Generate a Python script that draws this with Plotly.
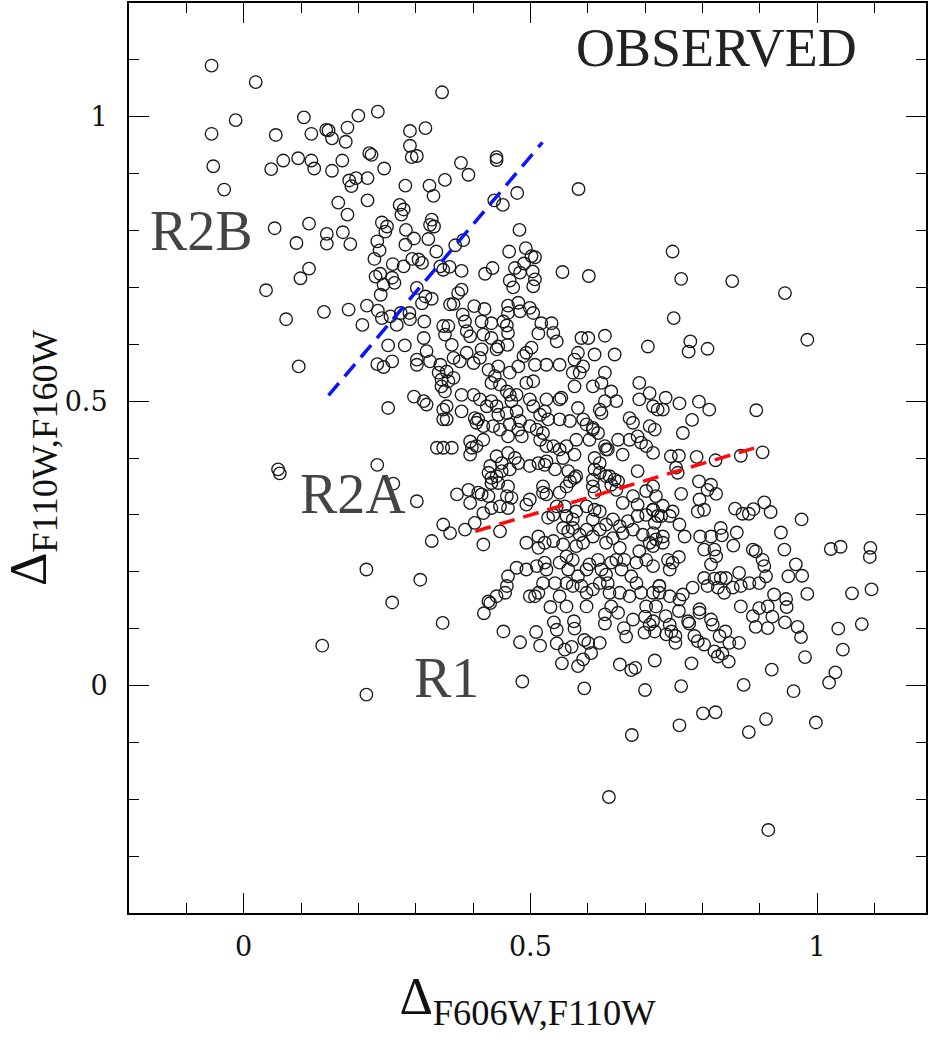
import plotly.graph_objects as go

# ---- data (Delta F606W,F110W ; Delta F110W,F160W) ----
upper_left = [(-0.056,1.090),(0.021,1.061),(-0.014,0.994),(0.105,0.999),(0.200,1.002),(0.234,1.009),(-0.056,0.970),(0.056,0.968),(0.118,0.970),(0.144,0.977),(0.148,0.976),(0.181,0.981),(0.154,0.962),(0.178,0.956),(0.219,0.936),(0.223,0.933),(0.290,0.975),(0.290,0.949),(0.293,0.929),(0.302,0.931),(-0.053,0.913),(0.048,0.908),(0.069,0.923),(0.095,0.927),(0.118,0.923),(0.123,0.909),(0.154,0.905),(0.172,0.923),(0.245,0.909),(-0.034,0.872),(0.184,0.888),(0.196,0.892),(0.188,0.878),(0.216,0.892),(0.282,0.879),(0.165,0.849),(0.216,0.853),(0.181,0.828),(0.272,0.845),(0.279,0.837),(0.275,0.828),(0.054,0.804),(0.114,0.812),(0.092,0.778),(0.145,0.794),(0.145,0.777),(0.173,0.797),(0.186,0.776),(0.241,0.814),(0.250,0.807),(0.247,0.798),(0.283,0.801),(0.233,0.781),(0.237,0.765),(0.282,0.775),(0.297,0.786),(0.228,0.750),(0.260,0.741),(0.279,0.737),(0.294,0.750),(0.305,0.749),(0.114,0.733),(0.099,0.716),(0.230,0.719),(0.238,0.724),(0.244,0.705),(0.259,0.717),(0.263,0.708),(0.239,0.687),(0.302,0.699),(0.039,0.695),(0.074,0.644),(0.140,0.657),(0.183,0.661),(0.215,0.668),(0.234,0.659),(0.241,0.646),(0.256,0.649),(0.274,0.655),(0.289,0.655),(0.290,0.644),(0.207,0.634),(0.267,0.634)]

upper_mid = [(0.346,1.043),(0.317,0.980),(0.379,0.919),(0.392,0.898),(0.441,0.929),(0.441,0.924),(0.351,0.889),(0.324,0.879),(0.331,0.861),(0.477,0.866),(0.437,0.853),(0.452,0.845),(0.584,0.873),(0.328,0.819),(0.325,0.810),(0.332,0.807),(0.322,0.785),(0.481,0.801),(0.336,0.763),(0.369,0.774),(0.383,0.783),(0.463,0.763),(0.492,0.769),(0.502,0.755),(0.508,0.753),(0.311,0.743),(0.343,0.737),(0.359,0.736),(0.348,0.731),(0.380,0.729),(0.421,0.724),(0.434,0.734),(0.473,0.734),(0.482,0.726),(0.489,0.742),(0.504,0.728),(0.508,0.714),(0.505,0.702),(0.464,0.712),(0.470,0.700),(0.556,0.727),(0.602,0.720),(0.317,0.684),(0.328,0.680),(0.311,0.672),(0.374,0.690),(0.380,0.696),(0.360,0.670),(0.366,0.671),(0.402,0.667),(0.420,0.662),(0.461,0.668),(0.479,0.673),(0.461,0.655),(0.482,0.658),(0.499,0.664),(0.505,0.655),(0.315,0.640),(0.382,0.652),(0.386,0.640),(0.348,0.632),(0.357,0.632),(0.415,0.640),(0.432,0.637),(0.453,0.640),(0.459,0.633),(0.519,0.637),(0.537,0.637),(0.748,0.763),(0.763,0.715),(0.852,0.711),(0.944,0.690),(0.750,0.646)]

left_low = [(0.096,0.561),(0.252,0.598),(0.281,0.598),(0.233,0.565),(0.244,0.560),(0.259,0.570),(0.302,0.573),(0.302,0.564),(0.297,0.508),(0.252,0.488),(0.060,0.380),(0.063,0.373),(0.233,0.388),(0.261,0.355),(0.302,0.324),(0.214,0.204),(0.308,0.186),(0.259,0.146),(0.137,0.070),(0.214,-0.016)]

core = [(0.314,0.611),(0.351,0.617),(0.363,0.599),(0.389,0.623),(0.395,0.614),(0.418,0.617),(0.432,0.611),(0.444,0.596),(0.460,0.599),(0.461,0.620),(0.514,0.619),(0.540,0.620),(0.546,0.605),(0.589,0.611),(0.601,0.611),(0.630,0.615),(0.705,0.596),
(0.325,0.570),(0.343,0.564),(0.366,0.576),(0.377,0.570),(0.389,0.585),(0.401,0.567),(0.412,0.576),(0.415,0.591),(0.427,0.555),(0.441,0.591),(0.444,0.561),(0.464,0.550),(0.479,0.561),(0.488,0.579),(0.493,0.585),(0.502,0.594),(0.508,0.564),(0.528,0.564),(0.551,0.564),(0.577,0.573),(0.583,0.585),(0.592,0.561),(0.612,0.582),(0.647,0.582),(0.340,0.550),(0.354,0.552),(0.319,0.588),
(0.345,0.538),(0.357,0.535),(0.366,0.541),(0.351,0.517),(0.345,0.526),(0.380,0.511),(0.401,0.511),(0.412,0.503),(0.432,0.532),(0.438,0.544),(0.447,0.529),(0.459,0.517),(0.464,0.511),(0.476,0.511),(0.493,0.532),(0.505,0.535),(0.499,0.503),(0.528,0.503),(0.551,0.503),(0.554,0.506),(0.574,0.550),(0.577,0.526),(0.586,0.550),(0.609,0.526),(0.624,0.532),(0.630,0.550),(0.641,0.517),(0.690,0.532),(0.708,0.514),
(0.314,0.500),(0.319,0.494),(0.348,0.485),(0.354,0.491),(0.380,0.482),(0.403,0.470),(0.409,0.468),(0.424,0.491),(0.432,0.500),(0.441,0.491),(0.444,0.476),(0.459,0.479),(0.467,0.500),(0.476,0.482),(0.482,0.465),(0.505,0.491),(0.517,0.476),(0.525,0.482),(0.531,0.468),(0.551,0.468),(0.569,0.465),(0.583,0.488),(0.592,0.468),(0.598,0.459),(0.609,0.453),(0.621,0.485),(0.624,0.479),(0.630,0.500),(0.650,0.500),(0.673,0.470),(0.679,0.462),(0.690,0.503),(0.714,0.491),(0.722,0.485),
(0.348,0.468),(0.354,0.468),(0.406,0.462),(0.418,0.456),(0.435,0.456),(0.447,0.450),(0.464,0.459),(0.461,0.438),(0.479,0.450),(0.485,0.438),(0.499,0.456),(0.511,0.450),(0.522,0.444),(0.517,0.432),(0.528,0.421),(0.540,0.421),(0.551,0.415),(0.563,0.421),(0.580,0.432),(0.603,0.432),(0.609,0.450),(0.618,0.444),(0.630,0.421),(0.635,0.415),(0.653,0.432),(0.673,0.432),(0.687,0.438),(0.693,0.427),(0.702,0.421),(0.714,0.409),(0.708,0.456),(0.348,0.418),(0.337,0.418),(0.363,0.418),(0.395,0.429),(0.398,0.418),(0.395,0.406),(0.418,0.432),(0.406,0.421),
(0.441,0.403),(0.461,0.409),(0.473,0.400),(0.430,0.386),(0.450,0.391),(0.464,0.380),(0.479,0.391),(0.499,0.386),(0.514,0.391),(0.525,0.388),(0.528,0.394),(0.543,0.380),(0.557,0.400),(0.577,0.406),(0.566,0.377),(0.580,0.368),(0.612,0.400),(0.621,0.391),(0.612,0.380),(0.621,0.374),(0.609,0.362),(0.632,0.415),(0.632,0.368),(0.647,0.362),(0.661,0.406),(0.687,0.377),(0.427,0.374),(0.432,0.365),(0.441,0.368),(0.450,0.377),
(0.372,0.336),(0.392,0.344),(0.395,0.321),(0.409,0.339),(0.415,0.336),(0.427,0.333),(0.432,0.356),(0.444,0.356),(0.461,0.350),(0.459,0.333),(0.467,0.330),(0.499,0.327),(0.522,0.350),(0.522,0.339),(0.528,0.336),(0.551,0.339),(0.563,0.350),(0.569,0.359),(0.577,0.365),(0.609,0.350),(0.612,0.339),(0.638,0.368),(0.641,0.353),(0.653,0.359),(0.650,0.344),(0.661,0.321),(0.679,0.333),(0.687,0.318),(0.702,0.342),(0.714,0.350),(0.719,0.333),
(0.418,0.303),(0.432,0.312),(0.447,0.315),(0.461,0.312),(0.493,0.318),(0.531,0.295),(0.540,0.300),(0.546,0.315),(0.560,0.315),(0.563,0.298),(0.574,0.292),(0.580,0.306),(0.598,0.315),(0.612,0.309),(0.621,0.306),(0.609,0.292),(0.632,0.283),(0.644,0.292),(0.656,0.280),(0.670,0.289),(0.687,0.298),(0.702,0.300),(0.714,0.309),(0.722,0.298),
(0.348,0.283),(0.360,0.268),(0.328,0.254),(0.386,0.274),(0.403,0.286),(0.418,0.248),(0.447,0.271),(0.493,0.251),(0.514,0.262),(0.514,0.242),(0.525,0.251),(0.540,0.254),(0.557,0.277),(0.566,0.271),(0.574,0.277),(0.586,0.265),(0.598,0.274),(0.609,0.262),(0.621,0.274),(0.632,0.251),(0.644,0.259),(0.661,0.268),(0.679,0.274),(0.696,0.265),(0.708,0.251),(0.719,0.257),(0.557,0.248),(0.580,0.245),(0.592,0.251),
(0.461,0.192),(0.476,0.207),(0.493,0.204),(0.511,0.210),(0.525,0.216),(0.528,0.204),(0.551,0.216),(0.563,0.227),(0.574,0.221),(0.566,0.204),(0.583,0.192),(0.598,0.204),(0.603,0.213),(0.618,0.221),(0.624,0.204),(0.632,0.195),(0.641,0.216),(0.650,0.221),(0.664,0.221),(0.659,0.204),(0.676,0.192),(0.685,0.216),(0.702,0.221),(0.714,0.210),(0.690,0.236),(0.656,0.242),
(0.441,0.157),(0.427,0.148),(0.456,0.163),(0.459,0.175),(0.499,0.157),(0.508,0.157),(0.514,0.163),(0.522,0.180),(0.543,0.180),(0.551,0.157),(0.563,0.180),(0.574,0.175),(0.589,0.175),(0.598,0.163),(0.609,0.169),(0.621,0.180),(0.635,0.180),(0.638,0.163),(0.656,0.163),(0.673,0.157),(0.685,0.180),(0.693,0.163),(0.714,0.163),(0.725,0.175),(0.563,0.139),(0.598,0.139),(0.702,0.139)]

right_mid = [(0.796,0.262),(0.815,0.262),(0.832,0.277),(0.834,0.264),(0.860,0.269),(0.854,0.246),(0.803,0.239),(0.821,0.239),(0.824,0.227),(0.815,0.213),(0.864,0.198),(0.888,0.239),(0.893,0.236),(0.905,0.221),(0.908,0.210),(0.911,0.192),(0.899,0.180),(0.882,0.180),(0.867,0.175),(0.853,0.172),(0.832,0.189),(0.841,0.189),(0.821,0.188),(0.803,0.189),(0.809,0.175),(0.827,0.172),(0.838,0.163),(0.783,0.172),(0.766,0.160),(0.760,0.151),(0.743,0.157),(0.725,0.175),(0.725,0.163),(0.743,0.204),(0.748,0.216),(0.740,0.221),(0.759,0.226),(0.714,0.245),(0.731,0.251),(0.714,0.268),(0.731,0.262),(0.717,0.286),(0.728,0.298),(0.743,0.298),(0.714,0.309),(0.731,0.316),(0.748,0.306),(0.760,0.283),(0.769,0.262),(0.925,0.160),
(0.779,0.605),(0.776,0.587),(0.809,0.592),(0.983,0.608),(0.736,0.506),(0.731,0.485),(0.760,0.496),(0.794,0.499),(0.812,0.485),(0.782,0.467),(0.766,0.444),(0.717,0.450),(0.894,0.484),(0.745,0.403),(0.759,0.404),(0.790,0.402),(0.823,0.396),(0.867,0.404),(0.905,0.410),(0.754,0.383),(0.757,0.374),(0.794,0.359),(0.815,0.353),(0.809,0.344),(0.824,0.337),(0.763,0.337),(0.795,0.327),(0.803,0.309),(0.792,0.306),(0.857,0.311),(0.870,0.302),(0.881,0.302),(0.889,0.310),(0.908,0.322),(0.919,0.305),(0.973,0.292),(0.937,0.269),(0.943,0.239),(1.024,0.240),(1.041,0.244),(1.093,0.242),(1.092,0.226),(0.963,0.213),(0.950,0.192),(0.974,0.193),(0.983,0.161),(1.061,0.162),(1.095,0.169),(0.946,0.152)]

low_mid = [(0.347,0.110),(0.419,0.127),(0.430,0.145),(0.453,0.095),(0.482,0.076),(0.510,0.094),(0.517,0.070),(0.535,0.138),(0.541,0.111),(0.546,0.098),(0.546,0.074),(0.576,0.113),(0.577,0.100),(0.560,0.063),(0.572,0.068),(0.555,0.039),(0.594,0.080),(0.601,0.075),(0.592,0.046),(0.583,0.034),(0.606,0.057),(0.621,0.075),(0.486,0.007),(0.594,-0.005),(0.630,0.125),(0.630,0.109),(0.641,0.139),(0.653,0.128),(0.663,0.101),(0.667,0.086),(0.679,0.116),(0.656,0.037),(0.676,0.027),(0.683,0.031),(0.700,-0.008),(0.700,0.121),(0.699,0.093),(0.708,0.107),(0.717,0.095),(0.717,0.044),(0.677,-0.087),(0.637,-0.196)]

low_right = [(0.719,0.139),(0.736,0.122),(0.714,0.113),(0.743,0.107),(0.746,0.095),(0.737,0.090),(0.753,0.087),(0.753,0.075),(0.759,0.131),(0.775,0.113),(0.777,0.109),(0.795,0.134),(0.795,0.128),(0.786,0.087),(0.792,0.078),(0.803,0.072),(0.815,0.116),(0.818,0.107),(0.830,0.087),(0.840,0.095),(0.847,0.075),(0.864,0.075),(0.821,0.060),(0.827,0.051),(0.835,0.056),(0.846,0.042),(0.781,0.039),(0.763,-0.001),(0.760,-0.070),(0.801,-0.049),(0.823,-0.047),(0.872,0.001),(0.881,-0.082),(0.911,-0.059),(0.921,0.028),(0.959,-0.010),(0.998,-0.065),(0.979,0.050),(1.021,0.005),(1.032,0.023),(1.045,0.063),(1.037,0.100),(1.078,0.108),(0.915,-0.254),(0.867,0.139),(0.888,0.122),(0.893,0.103),(0.899,0.136),(0.914,0.139),(0.914,0.101),(0.922,0.121),(0.944,0.111),(0.947,0.138),(0.966,0.103),(0.972,0.085)]

# dividing lines
blue_x = [0.148, 0.521]
blue_y = [0.510, 0.955]
red_x = [0.404, 0.899]
red_y = [0.271, 0.420]

# text labels
labels = ["OBSERVED", "R2B", "R2A", "R1"]
label_x = [0.824, -0.073, 0.190, 0.353]
label_y = [1.121, 0.800, 0.336, 0.014]

x_ticks = [0, 0.5, 1]
x_tick_text = ["0", "0.5", "1"]
y_ticks = [0, 0.5, 1]
y_tick_text = ["0", "0.5", "1"]

all_pts = upper_left + upper_mid + left_low + core + right_mid + low_mid + low_right
xs = [p[0] for p in all_pts]
ys = [p[1] for p in all_pts]

SERIF = "Liberation Serif, DejaVu Serif, Times New Roman, serif"

fig = go.Figure()
fig.add_trace(go.Scatter(
    x=xs, y=ys, mode="markers",
    marker=dict(symbol="circle-open", size=12.5, color="#1a1a1a",
                line=dict(width=1.35, color="#1a1a1a")),
    showlegend=False, hoverinfo="skip"))
fig.add_trace(go.Scatter(x=blue_x, y=blue_y, mode="lines",
                         line=dict(color="#0a14ff", width=3.5, dash="16px,9px"),
                         showlegend=False))
fig.add_trace(go.Scatter(x=red_x, y=red_y, mode="lines",
                         line=dict(color="#ff0a0a", width=3.5, dash="16px,9px"),
                         showlegend=False))

sizes = [54, 56, 56, 56]
colors = ["#222222", "#444444", "#444444", "#444444"]
for t, lx, ly, s, c in zip(labels, label_x, label_y, sizes, colors):
    fig.add_annotation(x=lx, y=ly, text=t, showarrow=False, xref="x", yref="y",
                       font=dict(family=SERIF, size=s, color=c))

axis_common = dict(
    showline=True, linewidth=2, linecolor="black", mirror="allticks",
    ticks="inside", ticklen=20, tickwidth=1.3, tickcolor="black",
    showgrid=False, zeroline=False,
    tickfont=dict(family="DejaVu Serif, Liberation Serif, serif", size=27, color="#111"),
)

fig.update_layout(
    width=928, height=1047,
    margin=dict(l=129, r=0, t=3, b=134, pad=0),
    paper_bgcolor="white", plot_bgcolor="white",
    xaxis=dict(range=[-0.2, 1.19], tickvals=x_ticks, ticktext=x_tick_text,
               minor=dict(dtick=0.1, tick0=0, ticks="inside", ticklen=10, tickwidth=1.3, tickcolor="black"),
               ticklabelstandoff=9,
               title=dict(text="Δ<sub>F606W,F110W</sub>", standoff=16,
                          font=dict(family=SERIF, size=52, color="#111")),
               **axis_common),
    yaxis=dict(range=[-0.4, 1.2], tickvals=y_ticks, ticktext=y_tick_text,
               minor=dict(dtick=0.1, tick0=0, ticks="inside", ticklen=10, tickwidth=1.3, tickcolor="black"),
               ticklabelstandoff=14,
               title=dict(text="Δ<sub>F110W,F160W</sub>", standoff=18,
                          font=dict(family=SERIF, size=52, color="#111")),
               **axis_common),
)

fig.write_html("out.html")
